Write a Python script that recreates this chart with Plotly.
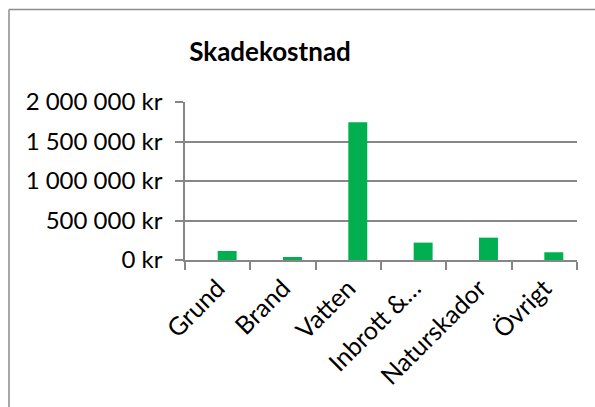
import plotly.graph_objects as go

categories = ["Grund", "Brand", "Vatten", "Inbrott &…", "Naturskador", "Övrigt"]
values = [114000, 38000, 1743000, 220000, 283000, 98000]
y_tickvals = [0, 500000, 1000000, 1500000, 2000000]
y_ticktext = ["0 kr", "500 000 kr", "1 000 000 kr", "1 500 000 kr", "2 000 000 kr"]
title_text = "Skadekostnad"

W, H = 595, 407
L, R, T = 185, 18, 102
B = H - 260
FONT = "Lato, 'Open Sans', sans-serif"
AX = "#868686"
FRAME = "#8c8c8c"

# bars sit just right of the category centre (as in a clustered chart with an empty first series)
fig = go.Figure(go.Bar(x=categories, y=values, marker=dict(color="#00B050", line=dict(width=0)),
                       width=0.29, offset=0))

pw = W - L - R
ph = H - T - B
def px2x(px):
    return (px - L) / pw
def py2y(py):
    return (H - B - py) / ph

# chart frame: only the left and top edges are visible in the window
fig.add_shape(type="line", xref="paper", yref="paper",
              x0=px2x(9), x1=px2x(9), y0=py2y(H + 5), y1=py2y(9.5),
              line=dict(color=FRAME, width=1.5), layer="below")
fig.add_shape(type="line", xref="paper", yref="paper",
              x0=px2x(9), x1=px2x(W + 5), y0=py2y(9.5), y1=py2y(9.5),
              line=dict(color=FRAME, width=1.5), layer="below")

fig.update_layout(
    width=W, height=H,
    margin=dict(l=L, r=R, t=T, b=B, pad=0),
    paper_bgcolor="white", plot_bgcolor="white",
    showlegend=False,
    title=dict(text="<b>" + title_text + "</b>", x=270 / W, xanchor="center",
               y=1 - 52 / H, yanchor="middle",
               font=dict(family=FONT, size=26, color="black")),
    font=dict(family=FONT, color="black"),
    xaxis=dict(type="category", showgrid=False, showline=True, linecolor=AX, linewidth=1.5,
               ticks="outside", tickson="boundaries", ticklen=8, tickcolor=AX, tickwidth=1.5,
               tickangle=-45, tickfont=dict(family=FONT, size=25, color="black"),
               ticklabelstandoff=2,
               range=[-0.5, 5.5], automargin=False),
    yaxis=dict(range=[0, 2000000], tickvals=y_tickvals, ticktext=y_ticktext,
               showgrid=True, gridcolor=AX, gridwidth=1.5,
               showline=True, linecolor=AX, linewidth=1.5,
               ticks="outside", ticklen=8, tickcolor=AX, tickwidth=1.5,
               ticklabelstandoff=8,
               tickfont=dict(family=FONT, size=24, color="black"), zeroline=False,
               automargin=False),
)

fig.write_html("out.html", config={"displayModeBar": False},
               post_script="document.body.style.margin='0';document.body.style.overflow='hidden';")
